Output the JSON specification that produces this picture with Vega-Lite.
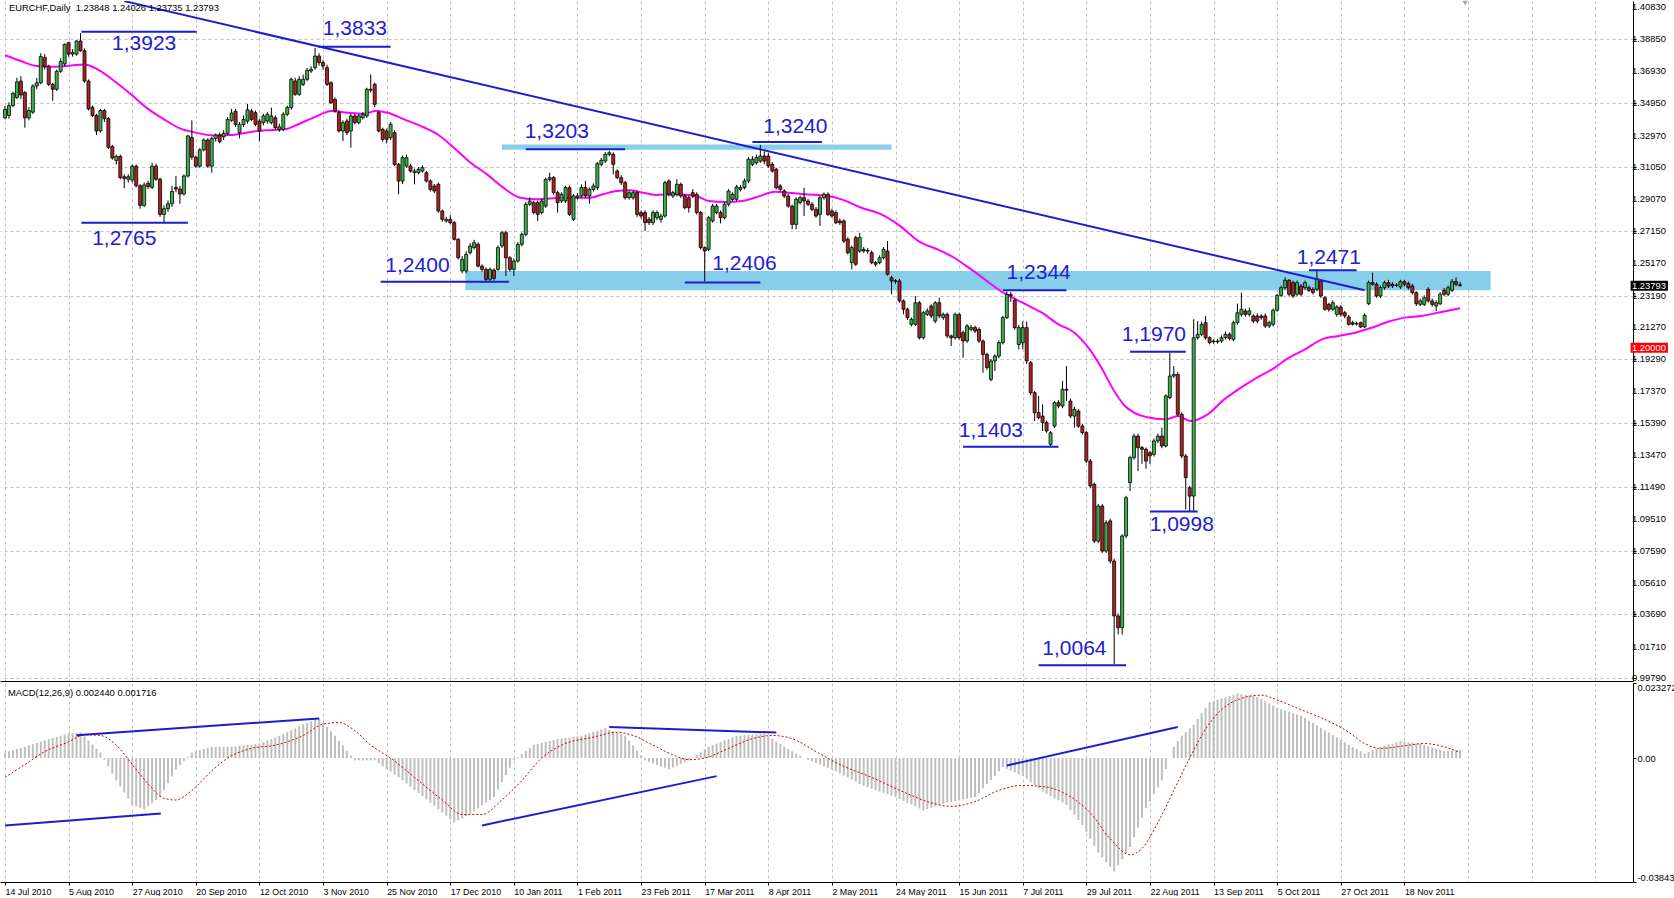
{
"$schema": "https://vega.github.io/schema/vega-lite/v6.json",
"padding": 0,
"spacing": 2,
"bounds": "flush",
"background": "white",
"config": {"view": {"stroke": null}, "font": "Liberation Sans", "text": {"font": "Liberation Sans"}, "axis": {"labelOverlap": false, "labelBound": false}},
"datasets": {
"candles": [
{"i":0,"o":1.3406,"h":1.3478,"l":1.3396,"c":1.3457,"m":0.0017},
{"i":1,"o":1.342,"h":1.35,"l":1.34,"c":1.348,"m":0.0021},
{"i":2,"o":1.348,"h":1.3565,"l":1.347,"c":1.3555,"m":0.0024},
{"i":3,"o":1.353,"h":1.365,"l":1.352,"c":1.3625,"m":0.0028},
{"i":4,"o":1.363,"h":1.366,"l":1.352,"c":1.3545,"m":0.0031},
{"i":5,"o":1.356,"h":1.357,"l":1.3345,"c":1.3405,"m":0.0035},
{"i":6,"o":1.3405,"h":1.347,"l":1.339,"c":1.345,"m":0.0039},
{"i":7,"o":1.344,"h":1.361,"l":1.343,"c":1.36,"m":0.0043},
{"i":8,"o":1.36,"h":1.365,"l":1.358,"c":1.362,"m":0.0047},
{"i":9,"o":1.362,"h":1.38,"l":1.361,"c":1.378,"m":0.0051},
{"i":10,"o":1.3775,"h":1.3795,"l":1.37,"c":1.372,"m":0.0055},
{"i":11,"o":1.372,"h":1.373,"l":1.36,"c":1.361,"m":0.0059},
{"i":12,"o":1.361,"h":1.362,"l":1.351,"c":1.358,"m":0.0062},
{"i":13,"o":1.358,"h":1.37,"l":1.357,"c":1.369,"m":0.0066},
{"i":14,"o":1.369,"h":1.377,"l":1.368,"c":1.375,"m":0.0069},
{"i":15,"o":1.3735,"h":1.386,"l":1.372,"c":1.3855,"m":0.0073},
{"i":16,"o":1.3865,"h":1.387,"l":1.378,"c":1.3795,"m":0.0076},
{"i":17,"o":1.3795,"h":1.3825,"l":1.378,"c":1.3805,"m":0.0077},
{"i":18,"o":1.3795,"h":1.388,"l":1.3785,"c":1.3875,"m":0.0078},
{"i":19,"o":1.3875,"h":1.3923,"l":1.381,"c":1.3815,"m":0.0079},
{"i":20,"o":1.3815,"h":1.383,"l":1.362,"c":1.363,"m":0.0067},
{"i":21,"o":1.363,"h":1.364,"l":1.345,"c":1.346,"m":0.0054},
{"i":22,"o":1.347,"h":1.348,"l":1.341,"c":1.342,"m":0.0042},
{"i":23,"o":1.342,"h":1.343,"l":1.33,"c":1.3325,"m":0.0029},
{"i":24,"o":1.3325,"h":1.346,"l":1.3315,"c":1.345,"m":0.0017},
{"i":25,"o":1.345,"h":1.346,"l":1.338,"c":1.34,"m":-0.0005},
{"i":26,"o":1.34,"h":1.341,"l":1.3215,"c":1.3225,"m":-0.0026},
{"i":27,"o":1.323,"h":1.324,"l":1.315,"c":1.316,"m":-0.0048},
{"i":28,"o":1.3145,"h":1.318,"l":1.312,"c":1.317,"m":-0.0069},
{"i":29,"o":1.317,"h":1.318,"l":1.303,"c":1.304,"m":-0.0088},
{"i":30,"o":1.3045,"h":1.306,"l":1.2975,"c":1.3035,"m":-0.0107},
{"i":31,"o":1.303,"h":1.306,"l":1.301,"c":1.3045,"m":-0.0126},
{"i":32,"o":1.3025,"h":1.312,"l":1.301,"c":1.311,"m":-0.0145},
{"i":33,"o":1.311,"h":1.312,"l":1.298,"c":1.299,"m":-0.015},
{"i":34,"o":1.299,"h":1.3,"l":1.285,"c":1.287,"m":-0.0154},
{"i":35,"o":1.287,"h":1.301,"l":1.286,"c":1.2995,"m":-0.0159},
{"i":36,"o":1.3005,"h":1.302,"l":1.297,"c":1.2985,"m":-0.0149},
{"i":37,"o":1.298,"h":1.313,"l":1.297,"c":1.311,"m":-0.014},
{"i":38,"o":1.311,"h":1.3125,"l":1.302,"c":1.303,"m":-0.013},
{"i":39,"o":1.303,"h":1.304,"l":1.28,"c":1.2815,"m":-0.0121},
{"i":40,"o":1.2815,"h":1.287,"l":1.2765,"c":1.285,"m":-0.01},
{"i":41,"o":1.285,"h":1.29,"l":1.283,"c":1.288,"m":-0.0078},
{"i":42,"o":1.288,"h":1.299,"l":1.286,"c":1.2955,"m":-0.0057},
{"i":43,"o":1.298,"h":1.305,"l":1.295,"c":1.297,"m":-0.0035},
{"i":44,"o":1.297,"h":1.299,"l":1.288,"c":1.294,"m":-0.0022},
{"i":45,"o":1.294,"h":1.306,"l":1.293,"c":1.305,"m":-0.0009},
{"i":46,"o":1.305,"h":1.33,"l":1.304,"c":1.3295,"m":0.0004},
{"i":47,"o":1.3285,"h":1.339,"l":1.315,"c":1.3165,"m":0.0017},
{"i":48,"o":1.3165,"h":1.3175,"l":1.31,"c":1.311,"m":0.0021},
{"i":49,"o":1.311,"h":1.322,"l":1.31,"c":1.321,"m":0.0024},
{"i":50,"o":1.321,"h":1.328,"l":1.32,"c":1.327,"m":0.0028},
{"i":51,"o":1.327,"h":1.328,"l":1.31,"c":1.311,"m":0.0031},
{"i":52,"o":1.311,"h":1.329,"l":1.307,"c":1.328,"m":0.0035},
{"i":53,"o":1.328,"h":1.331,"l":1.326,"c":1.33,"m":0.0035},
{"i":54,"o":1.33,"h":1.3315,"l":1.325,"c":1.326,"m":0.0035},
{"i":55,"o":1.329,"h":1.333,"l":1.327,"c":1.331,"m":0.0035},
{"i":56,"o":1.331,"h":1.341,"l":1.33,"c":1.3395,"m":0.0035},
{"i":57,"o":1.339,"h":1.346,"l":1.338,"c":1.3435,"m":0.0035},
{"i":58,"o":1.3445,"h":1.346,"l":1.335,"c":1.3365,"m":0.0036},
{"i":59,"o":1.3315,"h":1.338,"l":1.328,"c":1.3365,"m":0.0038},
{"i":60,"o":1.3365,"h":1.342,"l":1.335,"c":1.3395,"m":0.0039},
{"i":61,"o":1.3385,"h":1.349,"l":1.337,"c":1.3455,"m":0.0041},
{"i":62,"o":1.3447,"h":1.346,"l":1.3385,"c":1.3396,"m":0.0042},
{"i":63,"o":1.3437,"h":1.345,"l":1.3355,"c":1.3366,"m":0.0044},
{"i":64,"o":1.3386,"h":1.34,"l":1.3264,"c":1.3325,"m":0.0045},
{"i":65,"o":1.3376,"h":1.343,"l":1.336,"c":1.3417,"m":0.005},
{"i":66,"o":1.3386,"h":1.344,"l":1.337,"c":1.3427,"m":0.0055},
{"i":67,"o":1.3376,"h":1.3468,"l":1.3365,"c":1.3417,"m":0.0059},
{"i":68,"o":1.3406,"h":1.342,"l":1.3335,"c":1.3345,"m":0.0064},
{"i":69,"o":1.3335,"h":1.337,"l":1.332,"c":1.335,"m":0.0069},
{"i":70,"o":1.3335,"h":1.344,"l":1.3325,"c":1.3427,"m":0.0075},
{"i":71,"o":1.3427,"h":1.348,"l":1.3415,"c":1.3468,"m":0.0081},
{"i":72,"o":1.3468,"h":1.365,"l":1.3455,"c":1.3641,"m":0.0086},
{"i":73,"o":1.3631,"h":1.365,"l":1.354,"c":1.3549,"m":0.0092},
{"i":74,"o":1.3549,"h":1.366,"l":1.354,"c":1.3641,"m":0.0098},
{"i":75,"o":1.361,"h":1.367,"l":1.36,"c":1.3641,"m":0.0104},
{"i":76,"o":1.3641,"h":1.371,"l":1.363,"c":1.3696,"m":0.0109},
{"i":77,"o":1.3692,"h":1.372,"l":1.368,"c":1.3702,"m":0.0114},
{"i":78,"o":1.3712,"h":1.3833,"l":1.37,"c":1.3783,"m":0.0119},
{"i":79,"o":1.3783,"h":1.38,"l":1.3725,"c":1.3743,"m":0.0124},
{"i":80,"o":1.3743,"h":1.376,"l":1.37,"c":1.3722,"m":0.011},
{"i":81,"o":1.3712,"h":1.373,"l":1.36,"c":1.361,"m":0.0097},
{"i":82,"o":1.362,"h":1.363,"l":1.349,"c":1.3498,"m":0.0083},
{"i":83,"o":1.3518,"h":1.353,"l":1.3437,"c":1.3447,"m":0.0069},
{"i":84,"o":1.3437,"h":1.345,"l":1.3315,"c":1.3325,"m":0.0054},
{"i":85,"o":1.3325,"h":1.339,"l":1.3264,"c":1.3376,"m":0.0039},
{"i":86,"o":1.3386,"h":1.34,"l":1.33,"c":1.3315,"m":0.0023},
{"i":87,"o":1.3325,"h":1.343,"l":1.3223,"c":1.3417,"m":0.0008},
{"i":88,"o":1.3417,"h":1.343,"l":1.3365,"c":1.3376,"m":-0.0007},
{"i":89,"o":1.3376,"h":1.343,"l":1.3366,"c":1.3417,"m":-0.0007},
{"i":90,"o":1.3406,"h":1.344,"l":1.3395,"c":1.3427,"m":-0.0007},
{"i":91,"o":1.3417,"h":1.359,"l":1.3405,"c":1.358,"m":-0.0007},
{"i":92,"o":1.358,"h":1.3671,"l":1.356,"c":1.3575,"m":-0.0007},
{"i":93,"o":1.361,"h":1.362,"l":1.347,"c":1.3488,"m":-0.0007},
{"i":94,"o":1.3437,"h":1.345,"l":1.3315,"c":1.3325,"m":-0.0016},
{"i":95,"o":1.3335,"h":1.3345,"l":1.326,"c":1.3274,"m":-0.0025},
{"i":96,"o":1.3325,"h":1.334,"l":1.325,"c":1.3274,"m":-0.0034},
{"i":97,"o":1.3284,"h":1.338,"l":1.327,"c":1.3366,"m":-0.0042},
{"i":98,"o":1.3315,"h":1.333,"l":1.311,"c":1.3121,"m":-0.0051},
{"i":99,"o":1.3121,"h":1.313,"l":1.2938,"c":1.3019,"m":-0.006},
{"i":100,"o":1.3019,"h":1.3175,"l":1.3,"c":1.3162,"m":-0.0069},
{"i":101,"o":1.3111,"h":1.318,"l":1.31,"c":1.3162,"m":-0.0079},
{"i":102,"o":1.3111,"h":1.3125,"l":1.307,"c":1.308,"m":-0.0089},
{"i":103,"o":1.307,"h":1.3095,"l":1.2999,"c":1.308,"m":-0.0099},
{"i":104,"o":1.307,"h":1.3105,"l":1.306,"c":1.3091,"m":-0.0108},
{"i":105,"o":1.308,"h":1.3115,"l":1.307,"c":1.3101,"m":-0.0118},
{"i":106,"o":1.307,"h":1.308,"l":1.301,"c":1.3019,"m":-0.0128},
{"i":107,"o":1.3019,"h":1.303,"l":1.2955,"c":1.2968,"m":-0.0138},
{"i":108,"o":1.2989,"h":1.3,"l":1.2945,"c":1.2958,"m":-0.0148},
{"i":109,"o":1.2999,"h":1.301,"l":1.2825,"c":1.2836,"m":-0.0159},
{"i":110,"o":1.2836,"h":1.2845,"l":1.277,"c":1.2785,"m":-0.0169},
{"i":111,"o":1.2775,"h":1.28,"l":1.2765,"c":1.2785,"m":-0.0179},
{"i":112,"o":1.2785,"h":1.281,"l":1.2755,"c":1.2765,"m":-0.019},
{"i":113,"o":1.2765,"h":1.2775,"l":1.2655,"c":1.2663,"m":-0.02},
{"i":114,"o":1.2663,"h":1.267,"l":1.254,"c":1.255,"m":-0.0193},
{"i":115,"o":1.2469,"h":1.256,"l":1.2455,"c":1.254,"m":-0.0187},
{"i":116,"o":1.2469,"h":1.259,"l":1.2455,"c":1.2571,"m":-0.018},
{"i":117,"o":1.2581,"h":1.264,"l":1.257,"c":1.2622,"m":-0.0173},
{"i":118,"o":1.2612,"h":1.266,"l":1.26,"c":1.2642,"m":-0.0164},
{"i":119,"o":1.2632,"h":1.2645,"l":1.249,"c":1.2499,"m":-0.0156},
{"i":120,"o":1.2499,"h":1.251,"l":1.2465,"c":1.2479,"m":-0.0147},
{"i":121,"o":1.2479,"h":1.249,"l":1.24,"c":1.2418,"m":-0.0138},
{"i":122,"o":1.2418,"h":1.249,"l":1.2405,"c":1.2479,"m":-0.013},
{"i":123,"o":1.2475,"h":1.2485,"l":1.241,"c":1.2424,"m":-0.0121},
{"i":124,"o":1.2479,"h":1.2625,"l":1.247,"c":1.2612,"m":-0.0098},
{"i":125,"o":1.2622,"h":1.2715,"l":1.261,"c":1.2703,"m":-0.0075},
{"i":126,"o":1.2703,"h":1.2715,"l":1.2438,"c":1.255,"m":-0.0053},
{"i":127,"o":1.255,"h":1.256,"l":1.2465,"c":1.2479,"m":-0.003},
{"i":128,"o":1.2479,"h":1.2545,"l":1.2438,"c":1.253,"m":-0.0007},
{"i":129,"o":1.253,"h":1.2645,"l":1.252,"c":1.2632,"m":0.0003},
{"i":130,"o":1.2632,"h":1.2705,"l":1.262,"c":1.2693,"m":0.0012},
{"i":131,"o":1.2693,"h":1.289,"l":1.268,"c":1.2877,"m":0.0022},
{"i":132,"o":1.2877,"h":1.292,"l":1.2865,"c":1.2897,"m":0.0031},
{"i":133,"o":1.2887,"h":1.29,"l":1.2815,"c":1.2826,"m":0.0041},
{"i":134,"o":1.2887,"h":1.29,"l":1.2775,"c":1.2815,"m":0.0044},
{"i":135,"o":1.2826,"h":1.291,"l":1.2815,"c":1.2897,"m":0.0047},
{"i":136,"o":1.2866,"h":1.304,"l":1.2855,"c":1.3029,"m":0.005},
{"i":137,"o":1.3029,"h":1.307,"l":1.3015,"c":1.304,"m":0.0053},
{"i":138,"o":1.304,"h":1.305,"l":1.2935,"c":1.2948,"m":0.0056},
{"i":139,"o":1.2948,"h":1.296,"l":1.2826,"c":1.2887,"m":0.0059},
{"i":140,"o":1.2897,"h":1.295,"l":1.2885,"c":1.2938,"m":0.0061},
{"i":141,"o":1.2897,"h":1.299,"l":1.2885,"c":1.2979,"m":0.0062},
{"i":142,"o":1.2979,"h":1.299,"l":1.2805,"c":1.2815,"m":0.0064},
{"i":143,"o":1.2785,"h":1.294,"l":1.2775,"c":1.2928,"m":0.0066},
{"i":144,"o":1.2917,"h":1.2945,"l":1.2905,"c":1.2928,"m":0.0067},
{"i":145,"o":1.2928,"h":1.2999,"l":1.2915,"c":1.2979,"m":0.0069},
{"i":146,"o":1.2979,"h":1.3019,"l":1.2915,"c":1.2928,"m":0.0073},
{"i":147,"o":1.2928,"h":1.298,"l":1.288,"c":1.2968,"m":0.0077},
{"i":148,"o":1.2968,"h":1.3005,"l":1.2955,"c":1.2989,"m":0.0081},
{"i":149,"o":1.2979,"h":1.3135,"l":1.2965,"c":1.3125,"m":0.0085},
{"i":150,"o":1.3121,"h":1.316,"l":1.311,"c":1.3146,"m":0.0089},
{"i":151,"o":1.3142,"h":1.3195,"l":1.313,"c":1.3182,"m":0.0093},
{"i":152,"o":1.3182,"h":1.3203,"l":1.317,"c":1.3192,"m":0.0088},
{"i":153,"o":1.3182,"h":1.3195,"l":1.306,"c":1.3121,"m":0.0083},
{"i":154,"o":1.308,"h":1.309,"l":1.303,"c":1.304,"m":0.0079},
{"i":155,"o":1.304,"h":1.3055,"l":1.2995,"c":1.3009,"m":0.0074},
{"i":156,"o":1.3009,"h":1.302,"l":1.2905,"c":1.2917,"m":0.0069},
{"i":157,"o":1.2917,"h":1.296,"l":1.2905,"c":1.2948,"m":0.0054},
{"i":158,"o":1.2917,"h":1.296,"l":1.2905,"c":1.2948,"m":0.0039},
{"i":159,"o":1.2948,"h":1.296,"l":1.28,"c":1.2815,"m":0.0023},
{"i":160,"o":1.2826,"h":1.284,"l":1.279,"c":1.2805,"m":0.0008},
{"i":161,"o":1.2826,"h":1.284,"l":1.2714,"c":1.2765,"m":-0.0007},
{"i":162,"o":1.2785,"h":1.28,"l":1.275,"c":1.2765,"m":-0.0012},
{"i":163,"o":1.2765,"h":1.284,"l":1.275,"c":1.2826,"m":-0.0016},
{"i":164,"o":1.2795,"h":1.284,"l":1.278,"c":1.2826,"m":-0.0021},
{"i":165,"o":1.2785,"h":1.282,"l":1.2765,"c":1.2805,"m":-0.0026},
{"i":166,"o":1.2805,"h":1.302,"l":1.2795,"c":1.3009,"m":-0.003},
{"i":167,"o":1.3019,"h":1.303,"l":1.2925,"c":1.2938,"m":-0.0035},
{"i":168,"o":1.2928,"h":1.296,"l":1.2915,"c":1.2948,"m":-0.0029},
{"i":169,"o":1.2938,"h":1.303,"l":1.2925,"c":1.2999,"m":-0.0024},
{"i":170,"o":1.2999,"h":1.301,"l":1.2915,"c":1.2928,"m":-0.0018},
{"i":171,"o":1.2928,"h":1.294,"l":1.2845,"c":1.2856,"m":-0.0013},
{"i":172,"o":1.2917,"h":1.293,"l":1.2826,"c":1.2856,"m":-0.0007},
{"i":173,"o":1.2948,"h":1.297,"l":1.2915,"c":1.2928,"m":0.0001},
{"i":174,"o":1.2938,"h":1.295,"l":1.2815,"c":1.2826,"m":0.001},
{"i":175,"o":1.2826,"h":1.2835,"l":1.26,"c":1.2612,"m":0.0018},
{"i":176,"o":1.2612,"h":1.262,"l":1.2406,"c":1.2591,"m":0.0027},
{"i":177,"o":1.2601,"h":1.2805,"l":1.259,"c":1.2795,"m":0.0035},
{"i":178,"o":1.2775,"h":1.288,"l":1.2765,"c":1.2866,"m":0.004},
{"i":179,"o":1.2826,"h":1.288,"l":1.2815,"c":1.2866,"m":0.0045},
{"i":180,"o":1.2826,"h":1.284,"l":1.276,"c":1.2795,"m":0.005},
{"i":181,"o":1.2795,"h":1.289,"l":1.2785,"c":1.2877,"m":0.0055},
{"i":182,"o":1.2877,"h":1.297,"l":1.2865,"c":1.2958,"m":0.0059},
{"i":183,"o":1.2907,"h":1.295,"l":1.2895,"c":1.2938,"m":0.0064},
{"i":184,"o":1.2907,"h":1.2995,"l":1.2895,"c":1.2983,"m":0.0069},
{"i":185,"o":1.2968,"h":1.2995,"l":1.2955,"c":1.2979,"m":0.007},
{"i":186,"o":1.2979,"h":1.3035,"l":1.2968,"c":1.3019,"m":0.0071},
{"i":187,"o":1.3019,"h":1.3165,"l":1.3005,"c":1.3152,"m":0.0072},
{"i":188,"o":1.3121,"h":1.3172,"l":1.311,"c":1.3152,"m":0.0073},
{"i":189,"o":1.3131,"h":1.318,"l":1.312,"c":1.3162,"m":0.0074},
{"i":190,"o":1.3141,"h":1.324,"l":1.313,"c":1.3172,"m":0.0075},
{"i":191,"o":1.3172,"h":1.32,"l":1.3121,"c":1.3141,"m":0.0076},
{"i":192,"o":1.3172,"h":1.319,"l":1.31,"c":1.3111,"m":0.0068},
{"i":193,"o":1.3121,"h":1.3135,"l":1.307,"c":1.308,"m":0.006},
{"i":194,"o":1.3091,"h":1.31,"l":1.2968,"c":1.2978,"m":0.0051},
{"i":195,"o":1.2989,"h":1.3,"l":1.2955,"c":1.2968,"m":0.0043},
{"i":196,"o":1.2958,"h":1.297,"l":1.2915,"c":1.2927,"m":0.0035},
{"i":197,"o":1.2927,"h":1.294,"l":1.2855,"c":1.2866,"m":0.0028},
{"i":198,"o":1.2866,"h":1.2875,"l":1.2724,"c":1.2754,"m":0.0021},
{"i":199,"o":1.2754,"h":1.292,"l":1.2724,"c":1.2907,"m":0.0014},
{"i":200,"o":1.2887,"h":1.293,"l":1.2875,"c":1.2917,"m":0.0007},
{"i":201,"o":1.2917,"h":1.2978,"l":1.2805,"c":1.2897,"m":0},
{"i":202,"o":1.2897,"h":1.291,"l":1.2865,"c":1.2877,"m":-0.0005},
{"i":203,"o":1.2877,"h":1.289,"l":1.2835,"c":1.2846,"m":-0.001},
{"i":204,"o":1.2846,"h":1.286,"l":1.2795,"c":1.2805,"m":-0.0015},
{"i":205,"o":1.2815,"h":1.293,"l":1.2744,"c":1.2917,"m":-0.002},
{"i":206,"o":1.2917,"h":1.295,"l":1.2905,"c":1.2938,"m":-0.0025},
{"i":207,"o":1.2938,"h":1.295,"l":1.2805,"c":1.2815,"m":-0.003},
{"i":208,"o":1.2836,"h":1.285,"l":1.2795,"c":1.2805,"m":-0.0035},
{"i":209,"o":1.2826,"h":1.284,"l":1.2755,"c":1.2764,"m":-0.0041},
{"i":210,"o":1.2775,"h":1.279,"l":1.275,"c":1.2764,"m":-0.0048},
{"i":211,"o":1.2775,"h":1.2785,"l":1.264,"c":1.2652,"m":-0.0054},
{"i":212,"o":1.2663,"h":1.2675,"l":1.257,"c":1.2581,"m":-0.006},
{"i":213,"o":1.252,"h":1.2625,"l":1.2479,"c":1.2612,"m":-0.0067},
{"i":214,"o":1.2673,"h":1.2685,"l":1.25,"c":1.251,"m":-0.0073},
{"i":215,"o":1.2591,"h":1.2703,"l":1.258,"c":1.2673,"m":-0.008},
{"i":216,"o":1.2601,"h":1.2615,"l":1.258,"c":1.2591,"m":-0.0086},
{"i":217,"o":1.2595,"h":1.261,"l":1.2575,"c":1.2591,"m":-0.009},
{"i":218,"o":1.2581,"h":1.2595,"l":1.251,"c":1.252,"m":-0.0095},
{"i":219,"o":1.252,"h":1.253,"l":1.2495,"c":1.251,"m":-0.0099},
{"i":220,"o":1.252,"h":1.2565,"l":1.251,"c":1.255,"m":-0.0104},
{"i":221,"o":1.255,"h":1.2615,"l":1.254,"c":1.2601,"m":-0.0108},
{"i":222,"o":1.2591,"h":1.2652,"l":1.244,"c":1.2449,"m":-0.0112},
{"i":223,"o":1.2428,"h":1.244,"l":1.2326,"c":1.2408,"m":-0.0117},
{"i":224,"o":1.241,"h":1.242,"l":1.239,"c":1.2405,"m":-0.0121},
{"i":225,"o":1.2408,"h":1.242,"l":1.2275,"c":1.2286,"m":-0.0127},
{"i":226,"o":1.2286,"h":1.2295,"l":1.2204,"c":1.2235,"m":-0.0133},
{"i":227,"o":1.2235,"h":1.2245,"l":1.217,"c":1.2184,"m":-0.0139},
{"i":228,"o":1.2143,"h":1.2185,"l":1.213,"c":1.2174,"m":-0.0144},
{"i":229,"o":1.2143,"h":1.2316,"l":1.2133,"c":1.2275,"m":-0.015},
{"i":230,"o":1.2275,"h":1.2285,"l":1.205,"c":1.2061,"m":-0.0156},
{"i":231,"o":1.2061,"h":1.2225,"l":1.205,"c":1.2214,"m":-0.0162},
{"i":232,"o":1.2204,"h":1.224,"l":1.2194,"c":1.2225,"m":-0.0158},
{"i":233,"o":1.2255,"h":1.2265,"l":1.218,"c":1.2194,"m":-0.0154},
{"i":234,"o":1.2163,"h":1.2285,"l":1.215,"c":1.2275,"m":-0.015},
{"i":235,"o":1.2275,"h":1.2306,"l":1.218,"c":1.2194,"m":-0.0146},
{"i":236,"o":1.2184,"h":1.2215,"l":1.217,"c":1.2204,"m":-0.0142},
{"i":237,"o":1.2204,"h":1.2215,"l":1.206,"c":1.2072,"m":-0.0138},
{"i":238,"o":1.2072,"h":1.208,"l":1.201,"c":1.2061,"m":-0.0136},
{"i":239,"o":1.2061,"h":1.2215,"l":1.205,"c":1.2204,"m":-0.0133},
{"i":240,"o":1.2204,"h":1.2215,"l":1.205,"c":1.2061,"m":-0.0131},
{"i":241,"o":1.2092,"h":1.2105,"l":1.1939,"c":1.2041,"m":-0.0128},
{"i":242,"o":1.2041,"h":1.2145,"l":1.203,"c":1.2133,"m":-0.0126},
{"i":243,"o":1.2112,"h":1.214,"l":1.21,"c":1.2123,"m":-0.0123},
{"i":244,"o":1.2123,"h":1.2135,"l":1.209,"c":1.2102,"m":-0.0121},
{"i":245,"o":1.2112,"h":1.2125,"l":1.203,"c":1.2041,"m":-0.0108},
{"i":246,"o":1.2041,"h":1.205,"l":1.1847,"c":1.1959,"m":-0.0094},
{"i":247,"o":1.1959,"h":1.197,"l":1.1865,"c":1.1878,"m":-0.0081},
{"i":248,"o":1.1806,"h":1.193,"l":1.1795,"c":1.1919,"m":-0.0068},
{"i":249,"o":1.1919,"h":1.196,"l":1.1858,"c":1.1949,"m":-0.0055},
{"i":250,"o":1.1949,"h":1.2045,"l":1.1935,"c":1.2031,"m":-0.0041},
{"i":251,"o":1.2031,"h":1.2195,"l":1.202,"c":1.2184,"m":-0.0028},
{"i":252,"o":1.2184,"h":1.2344,"l":1.2175,"c":1.2326,"m":-0.0033},
{"i":253,"o":1.2326,"h":1.234,"l":1.228,"c":1.232,"m":-0.0039},
{"i":254,"o":1.229,"h":1.23,"l":1.211,"c":1.2123,"m":-0.0044},
{"i":255,"o":1.202,"h":1.214,"l":1.199,"c":1.2123,"m":-0.005},
{"i":256,"o":1.203,"h":1.216,"l":1.199,"c":1.2123,"m":-0.0055},
{"i":257,"o":1.2123,"h":1.216,"l":1.19,"c":1.1919,"m":-0.0065},
{"i":258,"o":1.1909,"h":1.192,"l":1.171,"c":1.1725,"m":-0.0075},
{"i":259,"o":1.1725,"h":1.1735,"l":1.1552,"c":1.1603,"m":-0.0084},
{"i":260,"o":1.1603,"h":1.1705,"l":1.1562,"c":1.1572,"m":-0.0094},
{"i":261,"o":1.1582,"h":1.1654,"l":1.1491,"c":1.1542,"m":-0.0104},
{"i":262,"o":1.1542,"h":1.1555,"l":1.148,"c":1.1491,"m":-0.0111},
{"i":263,"o":1.1409,"h":1.149,"l":1.1399,"c":1.148,"m":-0.0118},
{"i":264,"o":1.1521,"h":1.1675,"l":1.151,"c":1.1664,"m":-0.0125},
{"i":265,"o":1.1664,"h":1.168,"l":1.163,"c":1.1644,"m":-0.0131},
{"i":266,"o":1.1644,"h":1.1797,"l":1.163,"c":1.1746,"m":-0.0138},
{"i":267,"o":1.1746,"h":1.1888,"l":1.1674,"c":1.174,"m":-0.0145},
{"i":268,"o":1.1674,"h":1.169,"l":1.157,"c":1.1582,"m":-0.0161},
{"i":269,"o":1.1582,"h":1.164,"l":1.1511,"c":1.1623,"m":-0.0176},
{"i":270,"o":1.1613,"h":1.1625,"l":1.151,"c":1.1521,"m":-0.0192},
{"i":271,"o":1.1521,"h":1.1535,"l":1.147,"c":1.1481,"m":-0.0207},
{"i":272,"o":1.1481,"h":1.149,"l":1.1295,"c":1.1307,"m":-0.0229},
{"i":273,"o":1.1307,"h":1.132,"l":1.114,"c":1.1155,"m":-0.025},
{"i":274,"o":1.1165,"h":1.1175,"l":1.0805,"c":1.0818,"m":-0.0272},
{"i":275,"o":1.0818,"h":1.1045,"l":1.0805,"c":1.1032,"m":-0.0293},
{"i":276,"o":1.1032,"h":1.1045,"l":1.0745,"c":1.0757,"m":-0.0308},
{"i":277,"o":1.0757,"h":1.0945,"l":1.0745,"c":1.093,"m":-0.0323},
{"i":278,"o":1.0941,"h":1.0955,"l":1.068,"c":1.0696,"m":-0.0337},
{"i":279,"o":1.0696,"h":1.071,"l":1.0064,"c":1.036,"m":-0.0352},
{"i":280,"o":1.036,"h":1.0375,"l":1.0247,"c":1.0288,"m":-0.0333},
{"i":281,"o":1.0288,"h":1.086,"l":1.0247,"c":1.0849,"m":-0.0314},
{"i":282,"o":1.0849,"h":1.1095,"l":1.0835,"c":1.1083,"m":-0.0295},
{"i":283,"o":1.1175,"h":1.134,"l":1.1124,"c":1.1328,"m":-0.0276},
{"i":284,"o":1.1328,"h":1.1475,"l":1.1315,"c":1.146,"m":-0.0246},
{"i":285,"o":1.146,"h":1.1475,"l":1.1246,"c":1.1389,"m":-0.0216},
{"i":286,"o":1.1389,"h":1.14,"l":1.129,"c":1.1379,"m":-0.0185},
{"i":287,"o":1.1379,"h":1.139,"l":1.126,"c":1.1307,"m":-0.0155},
{"i":288,"o":1.1358,"h":1.137,"l":1.129,"c":1.1338,"m":-0.0134},
{"i":289,"o":1.1348,"h":1.1445,"l":1.1335,"c":1.143,"m":-0.0112},
{"i":290,"o":1.143,"h":1.1475,"l":1.1415,"c":1.146,"m":-0.0091},
{"i":291,"o":1.146,"h":1.1511,"l":1.1385,"c":1.1399,"m":-0.0069},
{"i":292,"o":1.1399,"h":1.1715,"l":1.139,"c":1.1705,"m":-0.0034},
{"i":293,"o":1.1695,"h":1.197,"l":1.1685,"c":1.1827,"m":0},
{"i":294,"o":1.1827,"h":1.1888,"l":1.1815,"c":1.1837,"m":0.0035},
{"i":295,"o":1.1837,"h":1.185,"l":1.158,"c":1.1593,"m":0.0052},
{"i":296,"o":1.1593,"h":1.1605,"l":1.1325,"c":1.1338,"m":0.0069},
{"i":297,"o":1.1338,"h":1.135,"l":1.1012,"c":1.1206,"m":0.0081},
{"i":298,"o":1.1144,"h":1.1155,"l":1.0998,"c":1.1093,"m":0.0092},
{"i":299,"o":1.1093,"h":1.2174,"l":1.0998,"c":1.2061,"m":0.0104},
{"i":300,"o":1.2061,"h":1.2163,"l":1.205,"c":1.2082,"m":0.0121},
{"i":301,"o":1.2082,"h":1.216,"l":1.207,"c":1.2143,"m":0.0139},
{"i":302,"o":1.2153,"h":1.2194,"l":1.205,"c":1.2061,"m":0.0156},
{"i":303,"o":1.2061,"h":1.207,"l":1.202,"c":1.2031,"m":0.0173},
{"i":304,"o":1.2041,"h":1.205,"l":1.2025,"c":1.2036,"m":0.0177},
{"i":305,"o":1.2036,"h":1.2055,"l":1.2025,"c":1.2041,"m":0.0181},
{"i":306,"o":1.2041,"h":1.2075,"l":1.203,"c":1.2061,"m":0.0185},
{"i":307,"o":1.2061,"h":1.21,"l":1.205,"c":1.2082,"m":0.0188},
{"i":308,"o":1.2082,"h":1.2095,"l":1.2045,"c":1.2057,"m":0.0192},
{"i":309,"o":1.2051,"h":1.2165,"l":1.204,"c":1.2153,"m":0.0196},
{"i":310,"o":1.2153,"h":1.227,"l":1.214,"c":1.2214,"m":0.02},
{"i":311,"o":1.2204,"h":1.2337,"l":1.219,"c":1.2235,"m":0.0198},
{"i":312,"o":1.2225,"h":1.224,"l":1.219,"c":1.2204,"m":0.0196},
{"i":313,"o":1.2204,"h":1.2245,"l":1.219,"c":1.2225,"m":0.0194},
{"i":314,"o":1.2194,"h":1.2205,"l":1.215,"c":1.2163,"m":0.0192},
{"i":315,"o":1.2194,"h":1.221,"l":1.215,"c":1.2163,"m":0.019},
{"i":316,"o":1.2194,"h":1.2205,"l":1.217,"c":1.2184,"m":0.0183},
{"i":317,"o":1.2194,"h":1.221,"l":1.212,"c":1.2133,"m":0.0176},
{"i":318,"o":1.2133,"h":1.2165,"l":1.212,"c":1.2153,"m":0.0169},
{"i":319,"o":1.2143,"h":1.224,"l":1.213,"c":1.2229,"m":0.0162},
{"i":320,"o":1.2229,"h":1.233,"l":1.222,"c":1.232,"m":0.0155},
{"i":321,"o":1.232,"h":1.238,"l":1.231,"c":1.2367,"m":0.0151},
{"i":322,"o":1.2367,"h":1.243,"l":1.2355,"c":1.2412,"m":0.0147},
{"i":323,"o":1.2412,"h":1.242,"l":1.2315,"c":1.2327,"m":0.0143},
{"i":324,"o":1.2398,"h":1.241,"l":1.2305,"c":1.2316,"m":0.0139},
{"i":325,"o":1.2327,"h":1.241,"l":1.2315,"c":1.2398,"m":0.0135},
{"i":326,"o":1.2377,"h":1.239,"l":1.2315,"c":1.2327,"m":0.0131},
{"i":327,"o":1.2367,"h":1.241,"l":1.2355,"c":1.2398,"m":0.0124},
{"i":328,"o":1.2367,"h":1.238,"l":1.234,"c":1.2351,"m":0.0116},
{"i":329,"o":1.2357,"h":1.237,"l":1.2325,"c":1.2337,"m":0.0109},
{"i":330,"o":1.2357,"h":1.2471,"l":1.2345,"c":1.2418,"m":0.0101},
{"i":331,"o":1.2408,"h":1.242,"l":1.2305,"c":1.2316,"m":0.0094},
{"i":332,"o":1.2306,"h":1.2315,"l":1.2225,"c":1.2235,"m":0.0086},
{"i":333,"o":1.2265,"h":1.2275,"l":1.222,"c":1.2235,"m":0.0079},
{"i":334,"o":1.2235,"h":1.229,"l":1.2225,"c":1.2275,"m":0.0071},
{"i":335,"o":1.2204,"h":1.226,"l":1.219,"c":1.2249,"m":0.0064},
{"i":336,"o":1.2249,"h":1.226,"l":1.219,"c":1.2204,"m":0.0056},
{"i":337,"o":1.2214,"h":1.2225,"l":1.218,"c":1.2194,"m":0.0049},
{"i":338,"o":1.2188,"h":1.22,"l":1.2135,"c":1.2143,"m":0.0041},
{"i":339,"o":1.2153,"h":1.2165,"l":1.2135,"c":1.2143,"m":0.0034},
{"i":340,"o":1.2147,"h":1.216,"l":1.2135,"c":1.2145,"m":0.0028},
{"i":341,"o":1.2153,"h":1.216,"l":1.212,"c":1.2127,"m":0.0021},
{"i":342,"o":1.2127,"h":1.221,"l":1.212,"c":1.2198,"m":0.0014},
{"i":343,"o":1.2269,"h":1.241,"l":1.226,"c":1.2398,"m":0.0019},
{"i":344,"o":1.2398,"h":1.2459,"l":1.238,"c":1.2388,"m":0.0025},
{"i":345,"o":1.2388,"h":1.24,"l":1.2305,"c":1.2316,"m":0.003},
{"i":346,"o":1.2316,"h":1.238,"l":1.2305,"c":1.2367,"m":0.0035},
{"i":347,"o":1.2367,"h":1.241,"l":1.2355,"c":1.2398,"m":0.0038},
{"i":348,"o":1.2398,"h":1.2415,"l":1.2365,"c":1.2377,"m":0.0042},
{"i":349,"o":1.2388,"h":1.24,"l":1.2365,"c":1.2377,"m":0.0045},
{"i":350,"o":1.2382,"h":1.2395,"l":1.237,"c":1.2381,"m":0.0049},
{"i":351,"o":1.2371,"h":1.2415,"l":1.236,"c":1.2404,"m":0.0052},
{"i":352,"o":1.2404,"h":1.2415,"l":1.2375,"c":1.2388,"m":0.0051},
{"i":353,"o":1.2392,"h":1.2405,"l":1.2355,"c":1.2367,"m":0.0049},
{"i":354,"o":1.2377,"h":1.239,"l":1.2325,"c":1.2337,"m":0.0048},
{"i":355,"o":1.2337,"h":1.2345,"l":1.2255,"c":1.2269,"m":0.0046},
{"i":356,"o":1.2265,"h":1.23,"l":1.2255,"c":1.2286,"m":0.0045},
{"i":357,"o":1.2265,"h":1.232,"l":1.2255,"c":1.2306,"m":0.0041},
{"i":358,"o":1.2357,"h":1.237,"l":1.2275,"c":1.2286,"m":0.0037},
{"i":359,"o":1.2286,"h":1.23,"l":1.225,"c":1.2265,"m":0.0033},
{"i":360,"o":1.2255,"h":1.229,"l":1.2225,"c":1.2275,"m":0.0029},
{"i":361,"o":1.2269,"h":1.234,"l":1.226,"c":1.2327,"m":0.0025},
{"i":362,"o":1.2351,"h":1.2365,"l":1.2315,"c":1.2327,"m":0.0021},
{"i":363,"o":1.2327,"h":1.238,"l":1.2315,"c":1.2367,"m":0.0022},
{"i":364,"o":1.2351,"h":1.242,"l":1.234,"c":1.2404,"m":0.0023},
{"i":365,"o":1.2404,"h":1.243,"l":1.2375,"c":1.2388,"m":0.0024},
{"i":366,"o":1.23848,"h":1.24026,"l":1.23735,"c":1.23793,"m":0.00244}
],
"ma": [{"i":0,"v":1.3788},{"i":4,"v":1.3753},{"i":8,"v":1.3722},{"i":12.5,"v":1.3718},{"i":16.7,"v":1.3726},{"i":20,"v":1.3732},{"i":23.3,"v":1.3702},{"i":27.5,"v":1.3631},{"i":31.7,"v":1.3549},{"i":35.8,"v":1.3463},{"i":40,"v":1.3396},{"i":44,"v":1.3341},{"i":48,"v":1.3315},{"i":52.5,"v":1.3298},{"i":56.7,"v":1.33},{"i":60,"v":1.3311},{"i":62.5,"v":1.3322},{"i":65.4,"v":1.3329},{"i":70.4,"v":1.3335},{"i":73.75,"v":1.3366},{"i":77.9,"v":1.341},{"i":82.1,"v":1.3447},{"i":86.25,"v":1.3437},{"i":90.4,"v":1.3431},{"i":93.3,"v":1.3447},{"i":96.25,"v":1.3437},{"i":100.4,"v":1.3396},{"i":104.6,"v":1.3355},{"i":108.75,"v":1.3305},{"i":112.9,"v":1.3223},{"i":117.1,"v":1.3131},{"i":121.25,"v":1.306},{"i":125,"v":1.2985},{"i":129.6,"v":1.2917},{"i":133.75,"v":1.2907},{"i":140.4,"v":1.2917},{"i":147,"v":1.2917},{"i":150.4,"v":1.2938},{"i":153.75,"v":1.2958},{"i":157,"v":1.2962},{"i":160.4,"v":1.2948},{"i":163.75,"v":1.2934},{"i":168.75,"v":1.2938},{"i":173.75,"v":1.2928},{"i":177,"v":1.2897},{"i":181.25,"v":1.2891},{"i":185.4,"v":1.2897},{"i":189,"v":1.292},{"i":193.75,"v":1.2954},{"i":197,"v":1.2948},{"i":201.25,"v":1.2938},{"i":207,"v":1.2927},{"i":210.4,"v":1.2907},{"i":215.4,"v":1.2856},{"i":220.4,"v":1.2815},{"i":224.6,"v":1.2754},{"i":230.4,"v":1.2642},{"i":234.6,"v":1.2601},{"i":238.75,"v":1.255},{"i":243,"v":1.2479},{"i":247,"v":1.2408},{"i":250.4,"v":1.2347},{"i":254,"v":1.23},{"i":258,"v":1.225},{"i":260.8,"v":1.2214},{"i":265,"v":1.2143},{"i":269,"v":1.2092},{"i":272.5,"v":1.2},{"i":275.8,"v":1.1878},{"i":279,"v":1.1735},{"i":281.7,"v":1.1644},{"i":284,"v":1.1603},{"i":288,"v":1.1572},{"i":292,"v":1.1562},{"i":295,"v":1.1582},{"i":298.3,"v":1.1552},{"i":302.5,"v":1.1593},{"i":306.7,"v":1.1684},{"i":310.5,"v":1.175},{"i":314.2,"v":1.1807},{"i":318.75,"v":1.1868},{"i":323,"v":1.1939},{"i":327,"v":1.199},{"i":331.25,"v":1.2051},{"i":335.4,"v":1.2072},{"i":339.6,"v":1.2092},{"i":343.75,"v":1.2122},{"i":347.9,"v":1.2159},{"i":352,"v":1.2184},{"i":356.25,"v":1.2194},{"i":360.4,"v":1.2214},{"i":366,"v":1.2241}],
"sig": [{"i":0,"v":-0.006},{"i":5,"v":-0.002},{"i":10,"v":0.002},{"i":16,"v":0.005},{"i":20,"v":0.0072},{"i":24,"v":0.007},{"i":28,"v":0.004},{"i":32,"v":-0.002},{"i":36,"v":-0.008},{"i":40,"v":-0.0125},{"i":43,"v":-0.013},{"i":47,"v":-0.01},{"i":52,"v":-0.004},{"i":56,"v":0},{"i":62,"v":0.003},{"i":68,"v":0.004},{"i":75,"v":0.007},{"i":80,"v":0.0105},{"i":84,"v":0.011},{"i":88,"v":0.0085},{"i":92,"v":0.004},{"i":97,"v":0},{"i":104,"v":-0.007},{"i":110,"v":-0.013},{"i":115,"v":-0.0175},{"i":120,"v":-0.0175},{"i":125,"v":-0.013},{"i":130,"v":-0.007},{"i":135,"v":0},{"i":140,"v":0.004},{"i":148,"v":0.0065},{"i":154,"v":0.008},{"i":158,"v":0.007},{"i":163,"v":0.004},{"i":168,"v":0.001},{"i":172,"v":-0.0005},{"i":176,"v":0},{"i":182,"v":0.003},{"i":188,"v":0.006},{"i":193,"v":0.007},{"i":198,"v":0.006},{"i":204,"v":0.002},{"i":210,"v":-0.002},{"i":218,"v":-0.006},{"i":226,"v":-0.0105},{"i":232,"v":-0.0135},{"i":238,"v":-0.015},{"i":244,"v":-0.0135},{"i":250,"v":-0.01},{"i":256,"v":-0.0085},{"i":262,"v":-0.009},{"i":268,"v":-0.012},{"i":273,"v":-0.017},{"i":278,"v":-0.025},{"i":283,"v":-0.03},{"i":286,"v":-0.028},{"i":290,"v":-0.02},{"i":294,"v":-0.01},{"i":298,"v":0},{"i":302,"v":0.009},{"i":306,"v":0.015},{"i":311,"v":0.0185},{"i":316,"v":0.0195},{"i":320,"v":0.018},{"i":326,"v":0.015},{"i":332,"v":0.012},{"i":338,"v":0.008},{"i":342,"v":0.0045},{"i":346,"v":0.003},{"i":352,"v":0.0038},{"i":357,"v":0.0045},{"i":362,"v":0.0035},{"i":366,"v":0.0017}],
"levels": [
{"x1":19.2,"x2":48.2,"p":1.3932,"lx":35,"ly":1.3857,"t":"1,3923"},
{"x1":78.75,"x2":97,"p":1.384,"lx":88,"ly":1.395,"t":"1,3833"},
{"x1":19.2,"x2":46,"p":1.2764,"lx":30,"ly":1.2667,"t":"1,2765"},
{"x1":94.5,"x2":126.75,"p":1.2404,"lx":103.75,"ly":1.2497,"t":"1,2400"},
{"x1":131,"x2":156,"p":1.3213,"lx":138.8,"ly":1.3317,"t":"1,3203"},
{"x1":171,"x2":190,"p":1.2398,"lx":186,"ly":1.2514,"t":"1,2406"},
{"x1":188,"x2":205.5,"p":1.3258,"lx":198.8,"ly":1.3349,"t":"1,3240"},
{"x1":251,"x2":267,"p":1.2351,"lx":260,"ly":1.2457,"t":"1,2344"},
{"x1":283,"x2":297,"p":1.1976,"lx":289,"ly":1.208,"t":"1,1970"},
{"x1":241,"x2":265,"p":1.1395,"lx":248,"ly":1.1491,"t":"1,1403"},
{"x1":288,"x2":300,"p":1.0998,"lx":296,"ly":1.0918,"t":"1,0998"},
{"x1":260,"x2":282,"p":1.0058,"lx":269,"ly":1.0155,"t":"1,0064"},
{"x1":328,"x2":340,"p":1.2473,"lx":333,"ly":1.2547,"t":"1,2471"}
],
"yticks": [{"v":0.9979},{"v":1.0171},{"v":1.0369},{"v":1.0561},{"v":1.0759},{"v":1.0951},{"v":1.1149},{"v":1.1347},{"v":1.1539},{"v":1.1737},{"v":1.1929},{"v":1.2127},{"v":1.2319},{"v":1.2517},{"v":1.2715},{"v":1.2907},{"v":1.3105},{"v":1.3297},{"v":1.3495},{"v":1.3693},{"v":1.3885},{"v":1.4083}],
"trend": [{"i":30,"p":1.4119},{"i":342,"p":1.2351}],
"bands": [{"x1":115.8,"x2":373.7,"p1":1.2351,"p2":1.2469},{"x1":125,"x2":223,"p1":1.321,"p2":1.3242}],
"div": [{"g":"a","i":18,"v":0.0071},{"g":"a","i":79,"v":0.0123},{"g":"b","i":0,"v":-0.0209},{"g":"b","i":39.2,"v":-0.0172},{"g":"c","i":120,"v":-0.0209},{"g":"c","i":179,"v":-0.0056},{"g":"d","i":152,"v":0.0096},{"g":"d","i":194,"v":0.0079},{"g":"e","i":252,"v":-0.0023},{"g":"e","i":295,"v":0.0096}]
},
"vconcat": [
{
"width": 1633,
"height": 680,
"layer": [
{"data": {"name": "bands"}, "mark": {"type": "rect", "color": "#87ceeb"},
 "encoding": {
  "x": {"field": "x1", "type": "quantitative", "scale": {"domain": [0, 408.25], "nice": false, "zero": false},
        "axis": {"title": null, "orient": "bottom", "values": [0,8,16,24,32,40,48,56,64,72,80,88,96,104,112,120,128,136,144,152,160,168,176,184,192,200,208,216,224,232,240,248,256,264,272,280,288,296,304,312,320,328,336,344,352,360,368,376,384,392,400], "labels": false, "ticks": false, "domain": true, "domainColor": "#000000", "domainWidth": 1, "grid": true, "gridColor": "#c0c0c0", "gridDash": [3,3], "gridWidth": 1}},
  "x2": {"field": "x2"},
  "y": {"field": "p1", "type": "quantitative", "scale": {"domain": [0.99624, 1.41197], "nice": false, "zero": false},
        "axis": {"title": null, "orient": "right", "values": [0.9979,1.0171,1.0369,1.0561,1.0759,1.0951,1.1149,1.1347,1.1539,1.1737,1.1929,1.2127,1.2319,1.2517,1.2715,1.2907,1.3105,1.3297,1.3495,1.3693,1.3885,1.4083], "labels": false, "grid": true, "gridColor": "#c0c0c0", "gridDash": [3,3], "gridWidth": 1, "domain": true, "domainColor": "#000000", "ticks": true, "tickSize": 3, "tickColor": "#000000"}},
  "y2": {"field": "p2"}
 }},
{"mark": {"type": "rule", "color": "#b8b8b8", "strokeWidth": 1}, "encoding": {"y": {"datum": 1.23793}}},
{"mark": {"type": "rule", "color": "#f01010", "strokeWidth": 4}, "encoding": {"y": {"datum": 1.2}}},
{"data": {"name": "ma"}, "mark": {"type": "line", "color": "#ff00ff", "strokeWidth": 2, "interpolate": "monotone", "clip": true},
 "encoding": {"x": {"field": "i", "type": "quantitative"}, "y": {"field": "v", "type": "quantitative"}}},
{"data": {"name": "candles"}, "mark": {"type": "rule", "color": "#000000", "strokeWidth": 1, "clip": true},
 "encoding": {"x": {"field": "i", "type": "quantitative"}, "y": {"field": "l", "type": "quantitative"}, "y2": {"field": "h"}}},
{"data": {"name": "candles"}, "mark": {"type": "bar", "width": 3, "stroke": "#000000", "strokeWidth": 0.8, "clip": true},
 "encoding": {"x": {"field": "i", "type": "quantitative"}, "y": {"field": "o", "type": "quantitative"}, "y2": {"field": "c"},
  "fill": {"condition": {"test": "datum.c >= datum.o", "value": "#3cb44b"}, "value": "#b22222"}}},
{"data": {"name": "trend"}, "mark": {"type": "line", "color": "#1c1cd0", "strokeWidth": 2, "clip": true},
 "encoding": {"x": {"field": "i", "type": "quantitative"}, "y": {"field": "p", "type": "quantitative"}}},
{"data": {"name": "levels"}, "mark": {"type": "rule", "color": "#1c1cd0", "strokeWidth": 2},
 "encoding": {"x": {"field": "x1", "type": "quantitative"}, "x2": {"field": "x2"}, "y": {"field": "p", "type": "quantitative"}}},
{"data": {"name": "levels"}, "mark": {"type": "text", "color": "#2020d0", "fontSize": 21, "font": "Liberation Sans", "align": "center", "baseline": "middle"},
 "encoding": {"x": {"field": "lx", "type": "quantitative"}, "y": {"field": "ly", "type": "quantitative"}, "text": {"field": "t"}}},
{"data": {"values": [{"t": "EURCHF,Daily\u00a0\u00a01.23848\u00a01.24026\u00a01.23735\u00a01.23793"}]}, "mark": {"type": "text", "align": "left", "baseline": "middle", "fontSize": 9.4, "color": "#000000"},
 "encoding": {"x": {"datum": 1}, "y": {"datum": 1.4075}, "text": {"field": "t"}}},
{"data": {"values": [{"i": 367.3, "p": 1.4106}]}, "mark": {"type": "point", "shape": "triangle-down", "filled": true, "color": "#a8a8a8", "size": 30, "opacity": 1},
 "encoding": {"x": {"field": "i", "type": "quantitative"}, "y": {"field": "p", "type": "quantitative"}}},
{"data": {"name": "yticks"}, "mark": {"type": "text", "align": "left", "baseline": "middle", "fontSize": 9.4, "color": "#000000", "dx": 4, "clip": false},
 "encoding": {"x": {"datum": 408.25}, "y": {"field": "v", "type": "quantitative"}, "text": {"field": "v", "format": ".5f"}}},
{"data": {"values": [{"p": 1.23793, "t": "1.23793", "k": "b"}, {"p": 1.2, "t": "1.20000", "k": "r"}]}, "mark": {"type": "rule", "strokeWidth": 10, "strokeCap": "butt", "clip": false},
 "encoding": {"x": {"datum": 408.9}, "x2": {"datum": 418.3}, "y": {"field": "p", "type": "quantitative"},
  "stroke": {"condition": {"test": "datum.k == 'b'", "value": "#000000"}, "value": "#ff0000"}}},
{"data": {"values": [{"p": 1.23793, "t": "1.23793"}, {"p": 1.2, "t": "1.20000"}]}, "mark": {"type": "text", "align": "left", "baseline": "middle", "fontSize": 9.4, "color": "#ffffff", "dx": 1, "clip": false},
 "encoding": {"x": {"datum": 409}, "y": {"field": "p", "type": "quantitative"}, "text": {"field": "t"}}}
]
},
{
"width": 1633,
"height": 199,
"layer": [
{"data": {"name": "candles"}, "mark": {"type": "bar", "width": 2, "color": "#bebebe", "clip": true},
 "encoding": {
  "x": {"field": "i", "type": "quantitative", "scale": {"domain": [0, 408.25], "nice": false, "zero": false},
        "axis": {"title": null, "orient": "bottom", "values": [0,8,16,24,32,40,48,56,64,72,80,88,96,104,112,120,128,136,144,152,160,168,176,184,192,200,208,216,224,232,240,248,256,264,272,280,288,296,304,312,320,328,336,344,352,360,368,376,384,392,400],
                 "labelExpr": "(datum.value % 16 == 0 && datum.value <= 352) ? ['14 Jul 2010','5 Aug 2010','27 Aug 2010','20 Sep 2010','12 Oct 2010','3 Nov 2010','25 Nov 2010','17 Dec 2010','10 Jan 2011','1 Feb 2011','23 Feb 2011','17 Mar 2011','8 Apr 2011','2 May 2011','24 May 2011','15 Jun 2011','7 Jul 2011','29 Jul 2011','22 Aug 2011','13 Sep 2011','5 Oct 2011','27 Oct 2011','18 Nov 2011'][datum.value / 16] : ''",
                 "labelAlign": "left", "labelBaseline": "top", "labelFont": "Liberation Sans", "labelFontSize": 8.9, "labelColor": "#000000", "labelPadding": 2, "labelOverlap": false, "labelBound": false, "labelFlush": false,
                 "ticks": true, "tickSize": 3, "tickColor": {"condition": {"test": "datum.value % 16 == 0 && datum.value <= 352", "value": "#000000"}, "value": "transparent"},
                 "domain": true, "domainColor": "#000000", "grid": true, "gridColor": "#c0c0c0", "gridDash": [3,3], "gridWidth": 1}},
  "y": {"field": "m", "type": "quantitative", "scale": {"domain": [-0.03843, 0.023272], "nice": false, "zero": false},
        "axis": {"title": null, "orient": "right", "values": [-0.03843, 0, 0.023272], "labelExpr": "datum.value == 0 ? '0.00' : (datum.value > 0 ? '0.023272' : '-0.03843')", "labelFlush": true, "grid": false, "domain": true, "domainColor": "#000000", "ticks": true, "tickSize": 3, "tickColor": "#000000", "labelPadding": 1, "labelFont": "Liberation Sans", "labelFontSize": 9.4, "labelColor": "#000000", "labelOverlap": false}},
  "y2": {"datum": 0}
 }},
{"mark": {"type": "rule", "color": "#c0c0c0", "strokeDash": [3,3], "strokeWidth": 1}, "encoding": {"y": {"datum": 0}}},
{"data": {"name": "sig"}, "mark": {"type": "line", "color": "#d00000", "strokeWidth": 1, "strokeDash": [2,2], "interpolate": "monotone", "clip": true},
 "encoding": {"x": {"field": "i", "type": "quantitative"}, "y": {"field": "v", "type": "quantitative"}}},
{"data": {"name": "div"}, "mark": {"type": "line", "color": "#1c1cd0", "strokeWidth": 2, "clip": true},
 "encoding": {"x": {"field": "i", "type": "quantitative"}, "y": {"field": "v", "type": "quantitative"}, "detail": {"field": "g"}}},
{"mark": {"type": "rule", "color": "#000000", "strokeWidth": 1}, "encoding": {"y": {"datum": 0.023272}}},
{"data": {"values": [{"t": "MACD(12,26,9) 0.002440 0.001716"}]}, "mark": {"type": "text", "align": "left", "baseline": "middle", "fontSize": 9.4, "color": "#000000"},
 "encoding": {"x": {"datum": 0.75}, "y": {"datum": 0.0202}, "text": {"field": "t"}}}
]
}
]
}
